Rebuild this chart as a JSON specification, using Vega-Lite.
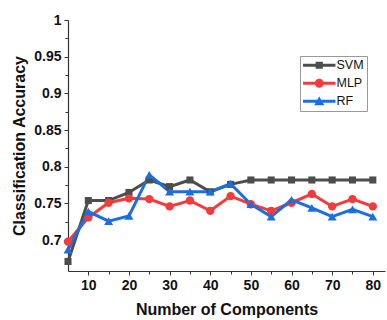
{
  "$schema": "https://vega.github.io/schema/vega-lite/v6.json",
  "width": 317,
  "height": 251,
  "autosize": "none",
  "padding": {"left": 68, "top": 20, "right": 2, "bottom": 49},
  "background": "white",
  "config": {
    "view": {"stroke": null},
    "font": "Liberation Sans",
    "axis": {
      "labelFont": "Liberation Sans",
      "labelFontWeight": "bold",
      "labelFontSize": 14,
      "labelColor": "#111",
      "titleFont": "Liberation Sans",
      "titleFontWeight": "bold",
      "titleFontSize": 16,
      "titleColor": "#111",
      "domainColor": "#333",
      "domainWidth": 1.2,
      "tickColor": "#333",
      "tickWidth": 1,
      "tickSize": 4,
      "grid": false
    }
  },
  "resolve": {"axis": {"x": "independent", "y": "independent"}},
  "data": {
    "values": [
      {"n": 5, "model": "SVM", "acc": 0.671},
      {"n": 10, "model": "SVM", "acc": 0.754},
      {"n": 15, "model": "SVM", "acc": 0.754},
      {"n": 20, "model": "SVM", "acc": 0.765},
      {"n": 25, "model": "SVM", "acc": 0.782},
      {"n": 30, "model": "SVM", "acc": 0.773},
      {"n": 35, "model": "SVM", "acc": 0.782},
      {"n": 40, "model": "SVM", "acc": 0.766},
      {"n": 45, "model": "SVM", "acc": 0.776},
      {"n": 50, "model": "SVM", "acc": 0.782},
      {"n": 55, "model": "SVM", "acc": 0.782},
      {"n": 60, "model": "SVM", "acc": 0.782},
      {"n": 65, "model": "SVM", "acc": 0.782},
      {"n": 70, "model": "SVM", "acc": 0.782},
      {"n": 75, "model": "SVM", "acc": 0.782},
      {"n": 80, "model": "SVM", "acc": 0.782},
      {"n": 5, "model": "MLP", "acc": 0.698},
      {"n": 10, "model": "MLP", "acc": 0.731},
      {"n": 15, "model": "MLP", "acc": 0.751},
      {"n": 20, "model": "MLP", "acc": 0.757},
      {"n": 25, "model": "MLP", "acc": 0.756},
      {"n": 30, "model": "MLP", "acc": 0.746},
      {"n": 35, "model": "MLP", "acc": 0.754},
      {"n": 40, "model": "MLP", "acc": 0.740},
      {"n": 45, "model": "MLP", "acc": 0.760},
      {"n": 50, "model": "MLP", "acc": 0.749},
      {"n": 55, "model": "MLP", "acc": 0.740},
      {"n": 60, "model": "MLP", "acc": 0.751},
      {"n": 65, "model": "MLP", "acc": 0.763},
      {"n": 70, "model": "MLP", "acc": 0.746},
      {"n": 75, "model": "MLP", "acc": 0.756},
      {"n": 80, "model": "MLP", "acc": 0.746},
      {"n": 5, "model": "RF", "acc": 0.687},
      {"n": 10, "model": "RF", "acc": 0.739},
      {"n": 15, "model": "RF", "acc": 0.726},
      {"n": 20, "model": "RF", "acc": 0.733},
      {"n": 25, "model": "RF", "acc": 0.789},
      {"n": 30, "model": "RF", "acc": 0.766},
      {"n": 35, "model": "RF", "acc": 0.766},
      {"n": 40, "model": "RF", "acc": 0.766},
      {"n": 45, "model": "RF", "acc": 0.777},
      {"n": 50, "model": "RF", "acc": 0.749},
      {"n": 55, "model": "RF", "acc": 0.732},
      {"n": 60, "model": "RF", "acc": 0.755},
      {"n": 65, "model": "RF", "acc": 0.744},
      {"n": 70, "model": "RF", "acc": 0.732},
      {"n": 75, "model": "RF", "acc": 0.742},
      {"n": 80, "model": "RF", "acc": 0.732}
    ]
  },
  "layer": [
    {
      "mark": {"type": "point", "opacity": 0},
      "encoding": {
        "x": {
          "field": "n", "type": "quantitative",
          "scale": {"domain": [5, 83], "nice": false, "zero": false},
          "axis": {"orient": "bottom", "title": null, "labels": false, "domain": false, "values": [15, 25, 35, 45, 55, 65, 75], "tickSize": 3}
        },
        "y": {
          "field": "acc", "type": "quantitative",
          "scale": {"domain": [0.658, 1], "nice": false, "zero": false},
          "axis": {"orient": "left", "title": null, "labels": false, "domain": false, "values": [0.675, 0.725, 0.775, 0.825, 0.875, 0.925, 0.975], "tickSize": 3}
        }
      }
    },
    {
      "encoding": {
        "x": {
          "field": "n", "type": "quantitative",
          "scale": {"domain": [5, 83], "nice": false, "zero": false},
          "axis": {"orient": "bottom", "title": "Number of Components", "values": [10, 20, 30, 40, 50, 60, 70, 80], "labelPadding": 3, "titlePadding": 9}
        },
        "y": {
          "field": "acc", "type": "quantitative",
          "scale": {"domain": [0.658, 1], "nice": false, "zero": false},
          "axis": {"orient": "left", "title": "Classification Accuracy", "values": [0.7, 0.75, 0.8, 0.85, 0.9, 0.95, 1], "labelPadding": 3, "titlePadding": 6, "labelExpr": "datum.value == 1 ? '1' : format(datum.value, '.2~f')"}
        },
        "color": {
          "field": "model", "type": "nominal",
          "scale": {"domain": ["SVM", "MLP", "RF"], "range": ["#4d4d4d", "#f03c3c", "#1c6ee0"]},
          "legend": {
            "title": null,
            "orient": "none",
            "legendX": 232,
            "legendY": 36,
            "padding": 3,
            "strokeColor": "#999",
            "fillColor": "white",
            "symbolSize": 144,
            "symbolOffset": 10,
            "labelOffset": 11,
            "rowPadding": 5,
            "labelFont": "Liberation Sans",
            "labelFontSize": 12.5,
            "labelColor": "#111",
            "encode": {
              "symbols": {
                "update": {
                  "shape": {"signal": "datum.value === 'SVM' ? 'M-2.7,-0.25H2.7V0.25H-2.7Z M-0.6,-0.6H0.6V0.6H-0.6Z' : datum.value === 'MLP' ? 'M-2.7,-0.25H2.7V0.25H-2.7Z M-0.75,0A0.75,0.75,0,1,1,0.75,0A0.75,0.75,0,1,1,-0.75,0Z' : 'M-2.7,-0.25H2.7V0.25H-2.7Z M0,-0.8L0.85,0.65H-0.85Z'"},
                  "fill": {"scale": "color", "field": "value"},
                  "fillOpacity": {"value": 1},
                  "strokeWidth": {"value": 0},
                  "opacity": {"value": 1}
                }
              }
            }
          }
        }
      },
      "layer": [
        {
          "mark": {"type": "line", "strokeWidth": 3, "clip": false},
          "encoding": {"order": {"field": "n", "type": "quantitative"}}
        },
        {
          "transform": [{"filter": "datum.model === 'SVM'"}],
          "mark": {"type": "point", "filled": true, "opacity": 1, "shape": "square", "size": 50, "clip": false}
        },
        {
          "transform": [{"filter": "datum.model === 'MLP'"}],
          "mark": {"type": "point", "filled": true, "opacity": 1, "shape": "circle", "size": 70, "clip": false}
        },
        {
          "transform": [{"filter": "datum.model === 'RF'"}],
          "mark": {"type": "point", "filled": true, "opacity": 1, "shape": "triangle-up", "size": 80, "clip": false}
        }
      ]
    }
  ]
}
